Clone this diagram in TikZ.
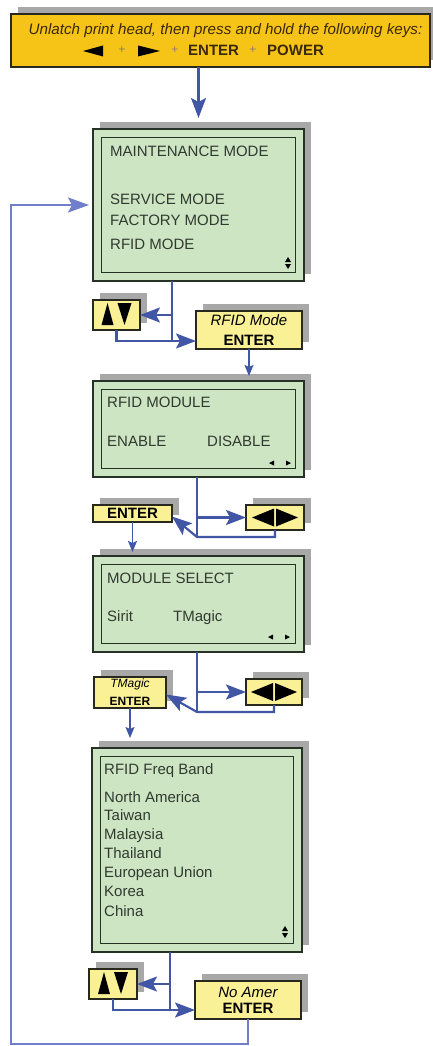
\documentclass[tikz,border=0pt]{standalone}
\usepackage{fontspec}
\setmainfont{Liberation Sans}
\usetikzlibrary{arrows.meta,shadows}
\definecolor{lcdfill}{RGB}{206,229,196}
\definecolor{lcdline}{RGB}{38,50,38}
\definecolor{lcdtext}{RGB}{48,58,48}
\definecolor{keyfill}{RGB}{250,240,150}
\definecolor{keyline}{RGB}{40,40,30}
\definecolor{topfill}{RGB}{246,196,22}
\definecolor{toptext}{RGB}{60,40,10}
\definecolor{shadowc}{RGB}{168,168,168}
\definecolor{arrowc}{RGB}{66,86,166}
\definecolor{loopc}{RGB}{112,126,204}
\tikzset{
  shd/.style={drop shadow={shadow xshift=7pt, shadow yshift=7pt, opacity=1, fill=shadowc}},
  lcd/.style={rectangle, draw=lcdline, line width=2pt, fill=lcdfill, inner sep=0pt, outer sep=0pt, shd},
  lcdinner/.style={draw=lcdline, line width=1.6pt},
  keybox/.style={rectangle, draw=keyline, line width=1.8pt, fill=keyfill, inner sep=0pt, outer sep=0pt, shd, align=center, text=black},
  topbox/.style={rectangle, draw=keyline, line width=1.8pt, fill=topfill, inner sep=0pt, outer sep=0pt, shd},
  lcdtxt/.style={anchor=base west, inner sep=0pt, text=lcdtext, font=\fontsize{15}{15}\selectfont},
  plustxt/.style={anchor=base, inner sep=0pt, text=toptext!60, font=\fontsize{12}{12}\selectfont},
  ln/.style={draw=arrowc, line width=2.2pt},
  arr/.style={ln, -{Stealth[length=20pt,width=15pt,inset=4pt]}},
  sarr/.style={draw=arrowc, line width=1.6pt, -{Stealth[length=11pt,width=9pt,inset=2pt]}},
  looparr/.style={draw=loopc, line width=2.2pt, -{Stealth[length=21pt,width=15pt,inset=4pt]}},
  updown/.pic={\fill[black] (-15,10) -- (-9,-12) -- (-3,10) -- cycle;
               \fill[black] (1,-12) -- (15,-12) -- (8,10) -- cycle;},
  leftright/.pic={\fill[black] (-23,0) -- (-1,-9) -- (-1,9) -- cycle;
                  \fill[black] (1,-9) -- (1,9) -- (23,0) -- cycle;},
  dblsmall/.pic={\fill[black] (-3,-1) -- (0,-6) -- (3,-1) -- cycle;
                 \fill[black] (-3,1) -- (3,1) -- (0,6) -- cycle;},
  lrsmall/.pic={\fill[black] (-11,0) -- (-6,-2.5) -- (-6,2.5) -- cycle;
                \fill[black] (6,-2.5) -- (6,2.5) -- (11,0) -- cycle;},
}
\begin{document}
\begin{tikzpicture}[x=1pt,y=-1pt]
\useasboundingbox (0,0) rectangle (433,1046);

% top instruction box
\node[topbox, minimum width=419pt, minimum height=53pt] (top) at (220.5,40.5) {};
\node[anchor=base, inner sep=0pt, text=toptext, font=\fontsize{15.2}{15}\selectfont\itshape] (tl1) at (225.5,35) {Unlatch print head, then press and hold the following keys:};
\fill[black] (83,51) -- (103,45.5) -- (103,56.5) -- cycle;
\fill[black] (138,45.5) -- (138,56.5) -- (160,51) -- cycle;
\node[plustxt] (tp1) at (122,54) {+};
\node[plustxt] (tp2) at (175,54) {+};
\node[plustxt] (tp3) at (253,54) {+};
\node[anchor=base west, inner sep=0pt, text=toptext, font=\fontsize{15}{15}\selectfont\bfseries] (tenter) at (188,56) {ENTER};
\node[anchor=base west, inner sep=0pt, text=toptext, font=\fontsize{15}{15}\selectfont\bfseries] (tpower) at (267,56) {POWER};

% LCD 1
\node[lcd, minimum width=211pt, minimum height=152pt] (lcd1) at (198.5,205) {};
\draw[lcdinner] ([shift={(8.5pt,-8.5pt)}]lcd1.north west) rectangle ([shift={(-8.5pt,8.5pt)}]lcd1.south east);
\node[lcdtxt] (l1a) at (110,157) {MAINTENANCE MODE};
\node[lcdtxt] (l1b) at (110,204) {SERVICE MODE};
\node[lcdtxt] (l1c) at (110,225) {FACTORY MODE};
\node[lcdtxt] (l1d) at (110,249) {RFID MODE};
\pic at (288,263) {dblsmall};

% keys after LCD1
\node[keybox, minimum width=47pt, minimum height=30pt] (ud1) at (116.5,315) {};
\pic at (ud1.center) {updown};
\node[keybox, minimum width=106pt, minimum height=38pt, font=\fontsize{15}{20}\selectfont] (ent1) at (249,330) {{\itshape RFID Mode}\\{\bfseries ENTER}};

% LCD 2
\node[lcd, minimum width=211pt, minimum height=96pt] (lcd2) at (198.5,429) {};
\draw[lcdinner] ([shift={(8.5pt,-8.5pt)}]lcd2.north west) rectangle ([shift={(-8.5pt,8.5pt)}]lcd2.south east);
\node[lcdtxt] (l2a) at (107,407) {RFID MODULE};
\node[lcdtxt] (l2b) at (107,446) {ENABLE};
\node[lcdtxt] (l2c) at (207,446) {DISABLE};
\pic at (280,463) {lrsmall};

\node[keybox, minimum width=79pt, minimum height=17pt, font=\fontsize{15}{15}\selectfont\bfseries] (ent2) at (132.5,513.5) {ENTER};
\node[keybox, minimum width=58pt, minimum height=25pt] (lr1) at (275,517.5) {};
\pic at (lr1.center) {leftright};

% LCD 3
\node[lcd, minimum width=211pt, minimum height=96pt] (lcd3) at (198.5,604) {};
\draw[lcdinner] ([shift={(8.5pt,-8.5pt)}]lcd3.north west) rectangle ([shift={(-8.5pt,8.5pt)}]lcd3.south east);
\node[lcdtxt] (l3a) at (107,583) {MODULE SELECT};
\node[lcdtxt] (l3b) at (107,621) {Sirit};
\node[lcdtxt] (l3c) at (173,621) {TMagic};
\pic at (279,637) {lrsmall};

\node[keybox, minimum width=72pt, minimum height=31pt, font=\fontsize{12}{18}\selectfont] (ent3) at (130,692.5) {{\itshape TMagic}\\{\bfseries ENTER}};
\node[keybox, minimum width=56pt, minimum height=26pt] (lr2) at (274,692) {};
\pic at (lr2.center) {leftright};

% LCD 4
\node[lcd, minimum width=210pt, minimum height=204pt] (lcd4) at (197,850) {};
\draw[lcdinner] ([shift={(8.5pt,-8.5pt)}]lcd4.north west) rectangle ([shift={(-8.5pt,8.5pt)}]lcd4.south east);
\node[lcdtxt] (l4a) at (104,774) {RFID Freq Band};
\node[lcdtxt] (l4b) at (104,802) {North America};
\node[lcdtxt] (l4c) at (104,820) {Taiwan};
\node[lcdtxt] (l4d) at (104,839) {Malaysia};
\node[lcdtxt] (l4e) at (104,858) {Thailand};
\node[lcdtxt] (l4f) at (104,877) {European Union};
\node[lcdtxt] (l4g) at (104,896) {Korea};
\node[lcdtxt] (l4h) at (104,916) {China};
\pic at (285,932) {dblsmall};

\node[keybox, minimum width=48pt, minimum height=30pt] (ud2) at (113,984) {};
\pic at (ud2.center) {updown};
\node[keybox, minimum width=106pt, minimum height=38pt, font=\fontsize{15}{16}\selectfont] (ent4) at (248,1000) {{\itshape No Amer}\\{\bfseries ENTER}};

% junction coordinates
\coordinate (j1) at (172,341);
\coordinate (j2) at (197,537);
\coordinate (j3) at (197,712);
\coordinate (j4) at (170,1010);
\coordinate (c1) at (11,1044);
\coordinate (t1) at ([yshift=11pt]lcd1.north);
\coordinate (t2) at ([yshift=5pt]lcd2.north);
\coordinate (t3) at ([yshift=4pt]lcd3.north);
\coordinate (t4) at ([yshift=10pt]lcd4.north);

% connectors
\draw[arr] (top.south -| lcd1.north) -- (t1);

\draw[ln] (lcd1.south -| j1) -- (j1);
\draw[arr] (ud1.east -| j1) -- (ud1.east);
\draw[arr] (ud1.south) -- (ud1.south |- j1) -- (ent1.west |- j1);
\draw[sarr] (ent1.south) -- (ent1.south |- t2);

\draw[ln] (lcd2.south -| j2) -- (j2);
\draw[arr] (lr1.west -| j2) -- (lr1.west);
\draw[arr] (lr1.south) -- (lr1.south |- j2) -- (j2) -- ([yshift=-3pt]ent2.east);
\draw[sarr] (ent2.south) -- (ent2.south |- t3);

\draw[ln] (lcd3.south -| j3) -- (j3);
\draw[arr] (lr2.west -| j3) -- (lr2.west);
\draw[arr] (lr2.south) -- (lr2.south |- j3) -- (j3) -- ([yshift=-2pt]ent3.east);
\draw[sarr] (ent3.south) -- (ent3.south |- t4);

\draw[ln] (lcd4.south -| j4) -- (j4);
\draw[arr] (ud2.east -| j4) -- (ud2.east);
\draw[arr] (ud2.south) -- (ud2.south |- j4) -- (ent4.west |- j4);

\draw[looparr] (ent4.south) -- (ent4.south |- c1) -- (c1) -- (c1 |- lcd1.west) -- ([xshift=-4pt]lcd1.west);
\end{tikzpicture}
\end{document}
